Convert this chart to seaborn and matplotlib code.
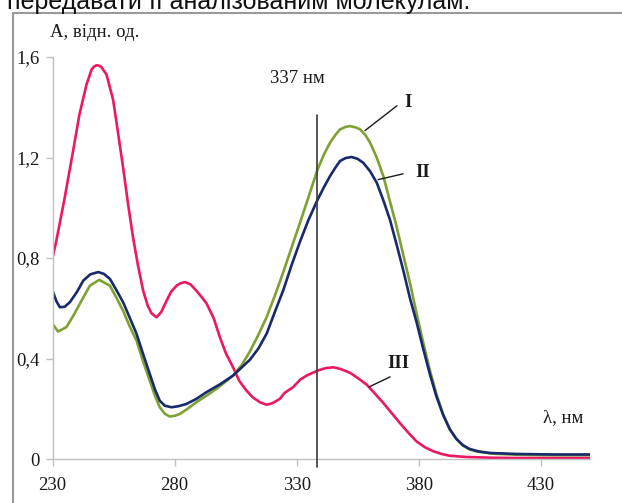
import numpy as np
import pandas as pd
import matplotlib
matplotlib.use("Agg")
import matplotlib.pyplot as plt
from matplotlib.lines import Line2D
import seaborn as sns

# ---- data ----
wl_III = [230, 231.6, 235, 238.5, 241, 243.9, 246, 247, 248, 249, 250, 252.1, 254.8, 256.5, 258.9, 261, 263, 265,
          267.1, 269, 270.5, 272.6, 274.5, 276.7, 278.5, 280.8, 282.5, 284.2, 286.5, 288.9, 291, 293, 296, 298.5,
          301, 303.9, 306.5, 309.4, 312, 314.9, 317.6, 320, 323, 325, 328.5, 331.4, 334, 338.8, 342, 345,
          348, 351.8, 355, 358.6, 362, 365.4, 368.8, 372.2, 375.6, 379, 382.4, 385.8, 389.2, 392.6, 399.4,
          410, 420, 435, 450]
A_III = [0.80, 0.87, 1.04, 1.23, 1.37, 1.49, 1.55, 1.562, 1.567, 1.566, 1.56, 1.53, 1.43, 1.32, 1.16, 1.01, 0.88, 0.77,
         0.67, 0.61, 0.58, 0.564, 0.585, 0.63, 0.665, 0.69, 0.70, 0.704, 0.695, 0.67, 0.645, 0.62, 0.56, 0.485,
         0.42, 0.365, 0.31, 0.272, 0.245, 0.226, 0.216, 0.222, 0.239, 0.263, 0.286, 0.316, 0.332, 0.353, 0.362, 0.365,
         0.358, 0.343, 0.322, 0.296, 0.26, 0.223, 0.183, 0.143, 0.105, 0.070, 0.047, 0.031, 0.02, 0.013, 0.008,
         0.005, 0.004, 0.004, 0.004]

wl_I = [230, 232.3, 235.7, 238.5, 241.2, 245.3, 249.1, 253.5, 256, 258.9, 261.5, 264.4, 267, 269.8, 272,
        273.9, 276, 278, 280, 282.1, 285, 288.9, 293, 297.1, 300.5, 303.9, 307.5, 310.8, 314.3, 317.7, 321,
        324.5, 327.8, 331.3, 334.7, 338.4, 341, 343.6, 345.8, 347.7, 350, 351.8, 354, 355.9, 358, 360, 362.7,
        365.4, 368, 370.8, 373.5, 376.3, 379, 381.7, 384.4, 387.1, 389.8, 392.6, 395.3, 398, 400.7, 403.5,
        410.3, 420, 435, 450]
A_I = [0.538, 0.507, 0.525, 0.57, 0.618, 0.69, 0.713, 0.69, 0.645, 0.59, 0.53, 0.471, 0.39, 0.312, 0.25,
       0.206, 0.18, 0.169, 0.172, 0.179, 0.198, 0.226, 0.252, 0.279, 0.305, 0.332, 0.375, 0.428, 0.495, 0.566, 0.65,
       0.745, 0.84, 0.94, 1.04, 1.15, 1.21, 1.259, 1.29, 1.312, 1.322, 1.325, 1.32, 1.312, 1.29, 1.259, 1.2,
       1.126, 1.03, 0.927, 0.815, 0.701, 0.58, 0.465, 0.355, 0.26, 0.18, 0.12, 0.08, 0.053, 0.038, 0.03,
       0.021, 0.017, 0.015, 0.015]

wl_II = [230, 231.5, 233, 235, 237.1, 240, 242.6, 245.5, 248.7, 251, 253.5, 256, 258.9, 261.5, 264.4, 267,
         269.8, 272, 273.9, 276, 278.7, 281.5, 284.8, 289, 293, 298.5, 303.9, 307.5, 310.8, 314.3, 317.7, 321,
         324.5, 327.8, 331.3, 334.7, 338.4, 341, 343.6, 345.8, 347.7, 350, 352.4, 354.8, 357.2, 360, 362.7,
         365.4, 368.1, 370.8, 373.5, 376.3, 379, 381.7, 384.4, 387.1, 389.9, 392.6, 395.3, 398, 400.7, 404.5,
         408.9, 420, 435, 450]
A_II = [0.671, 0.63, 0.604, 0.606, 0.624, 0.665, 0.71, 0.735, 0.744, 0.737, 0.717, 0.675, 0.624, 0.565, 0.498, 0.42,
        0.339, 0.275, 0.232, 0.212, 0.206, 0.21, 0.219, 0.24, 0.266, 0.297, 0.332, 0.365, 0.395, 0.44, 0.5, 0.585,
        0.673, 0.77, 0.865, 0.95, 1.03, 1.08, 1.126, 1.16, 1.186, 1.198, 1.202, 1.195, 1.179, 1.145, 1.1,
        1.03, 0.953, 0.855, 0.754, 0.64, 0.545, 0.44, 0.34, 0.25, 0.175, 0.118, 0.08, 0.055, 0.04, 0.03,
        0.024, 0.02, 0.018, 0.018]

x_ticks = [230, 280, 330, 380, 430]
y_ticks = [0, 0.4, 0.8, 1.2, 1.6]
y_tick_labels = ["0", "0,4", "0,8", "1,2", "1,6"]
series_names = ["I", "II", "III"]
colors = {"I": "#7EA133", "II": "#172A6B", "III": "#EC1864"}
marker_label = "337 нм"
marker_pos = 338.2   # where the marker line sits on the drawn axis

df = pd.concat([
    pd.DataFrame({"wl": wl_III, "A": A_III, "s": "III"}),
    pd.DataFrame({"wl": wl_I, "A": A_I, "s": "I"}),
    pd.DataFrame({"wl": wl_II, "A": A_II, "s": "II"}),
], ignore_index=True)

sns.set_theme(style="white")
plt.rcParams['font.family'] = ['Liberation Serif', 'DejaVu Serif']

fig = plt.figure(figsize=(6.22, 5.03), dpi=100)
ax = fig.add_axes([52.5 / 622, 44 / 503, 537.5 / 622, 402 / 503])

sns.lineplot(data=df, x="wl", y="A", hue="s", hue_order=["III", "I", "II"],
             palette=colors, linewidth=1.9, ax=ax, legend=False, estimator=None, sort=True)

ax.set_xlim(230, 450)
ax.set_ylim(0, 1.6)
ax.set_xticks(x_ticks)
ax.set_yticks(y_ticks)
ax.set_yticklabels(y_tick_labels)
ax.set_xlabel("")
ax.set_ylabel("")
for side in ["top", "right"]:
    ax.spines[side].set_visible(False)
for side in ["left", "bottom"]:
    ax.spines[side].set_color("#c0c0c0")
    ax.spines[side].set_linewidth(1.0)
ax.tick_params(axis="both", direction="out", length=5, width=1, color="#c0c0c0",
               labelsize=13.5, labelcolor="#1a1a1a", left=True, bottom=True)
ax.tick_params(axis="x", pad=8)
ax.tick_params(axis="y", pad=4)

# vertical marker line
ax.plot([marker_pos, marker_pos], [-0.032, 1.37], color="#3a3a3a", lw=1.2, clip_on=False, zorder=5)
ax.text(330.4, 1.514, marker_label, ha="center", va="center", fontsize=13.5, color="#1a1a1a")

# series labels with leader lines
ax.text(375.5, 1.418, "I", ha="center", va="center", fontsize=13.5, fontweight="bold", color="#1a1a1a")
ax.plot([371.0, 357.9], [1.406, 1.307], color="#1a1a1a", lw=1.0)
ax.text(381.5, 1.139, "II", ha="center", va="center", fontsize=13.5, fontweight="bold", color="#1a1a1a")
ax.plot([373.5, 363.3], [1.135, 1.112], color="#1a1a1a", lw=1.0)
ax.text(371.5, 0.382, "III", ha="center", va="center", fontsize=13.5, fontweight="bold", color="#1a1a1a")
ax.plot([368.2, 359.6], [0.327, 0.287], color="#1a1a1a", lw=1.0)

# axis titles
ax.text(229.0, 1.697, "А, відн. од.", ha="left", va="center", fontsize=13.5, color="#1a1a1a", clip_on=False)
ax.text(439.0, 0.163, "λ, нм", ha="center", va="center", fontsize=13.5, color="#1a1a1a")

# outer frame (partially visible)
fl = 12.5 / 622
ft = 1 - 12.5 / 503
fig.add_artist(Line2D([fl, 1.01], [ft, ft], transform=fig.transFigure, color="#9a9a9a", lw=1.5))
fig.add_artist(Line2D([fl, fl], [-0.01, ft], transform=fig.transFigure, color="#9a9a9a", lw=1.5))

# cropped caption text at the very top (cut off in the reference as well)
fig.text(0.012, 1 - 9 / 503, "передавати її аналізованим молекулам.", ha="left", va="baseline",
         fontsize=18, family=["Liberation Sans", "DejaVu Sans"], color="#111111")

fig.savefig("out.png", dpi=100)
